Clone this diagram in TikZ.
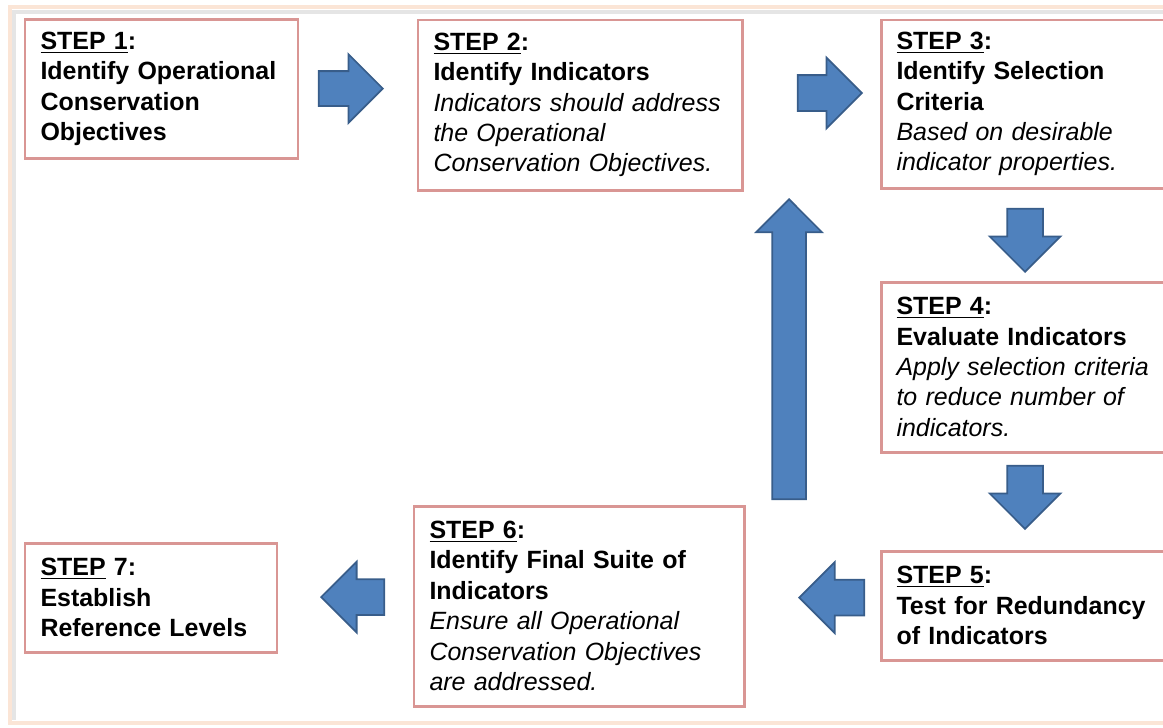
\documentclass[tikz,border=0pt]{standalone}
\usepackage{fontspec}
\setmainfont{Liberation Sans}
\usetikzlibrary{shapes.arrows}
\definecolor{stepred}{RGB}{217,150,148}
\definecolor{arrowfill}{RGB}{79,129,189}
\definecolor{arrowline}{RGB}{56,93,138}
\definecolor{framepeach}{RGB}{251,229,214}

\begin{document}
\begin{tikzpicture}[font=\fontsize{14.2}{17.3}\selectfont,x=1cm,y=1cm,
  stepbox/.style={draw=stepred,line width=1.7pt,fill=white,align=left,inner xsep=0.31cm,inner ysep=0pt},
  blk/.style={single arrow,draw=arrowline,fill=arrowfill,line width=1pt,inner xsep=0pt,inner ysep=0.34cm,single arrow head extend=#1,anchor=tip},
  blk/.default=0.35cm]
  \useasboundingbox (0,0) rectangle (23.26,-14.54);
  % cadre
  \draw[framepeach,line width=2pt] (0.2,-0.14) rectangle (24,-14.46);
  \draw[gray!20,line width=2pt] (0.28,-14.4) -- (0.28,-0.24) -- (24,-0.24);
  % etapes
  \node[stepbox,text width=4.84cm,minimum height=2.78cm] (s1) at (3.23,-1.78)
    {\bfseries\underline{STEP 1}:\\Identify Operational\\Conservation\\Objectives};
  \node[stepbox,text width=5.86cm,minimum height=3.4cm] (s2) at (11.6,-2.1)
    {\bfseries\underline{STEP 2}:\\Identify Indicators\\\mdseries\itshape Indicators should address\\the Operational\\Conservation Objectives.};
  \node[stepbox,text width=5.46cm,minimum height=3.36cm] (s3) at (20.66,-2.08)
    {\bfseries\underline{STEP 3}:\\Identify Selection\\Criteria\\\mdseries\itshape Based on desirable\\indicator properties.};
  \node[stepbox,text width=5.46cm,minimum height=3.4cm] (s4) at (20.66,-7.34)
    {\bfseries\underline{STEP 4}:\\Evaluate Indicators\\\mdseries\itshape Apply selection criteria\\to reduce number of\\indicators.};
  \node[stepbox,text width=5.46cm,minimum height=2.18cm] (s5) at (20.66,-12.11)
    {\bfseries\underline{STEP 5}:\\Test for Redundancy\\of Indicators};
  \node[stepbox,text width=5.98cm,minimum height=4cm] (s6) at (11.58,-12.12)
    {\bfseries\underline{STEP 6}:\\Identify Final Suite of\\Indicators\\\mdseries\itshape Ensure all Operational\\Conservation Objectives\\are addressed.};
  \node[stepbox,text width=4.42cm,minimum height=2.18cm] (s7) at (3.02,-11.95)
    {\bfseries\underline{STEP} 7:\\Establish\\Reference Levels};
  % fleches (placees par la pointe)
  \node[blk=0.34cm,inner ysep=0.33cm,minimum height=1.28cm] (a12) at (7.68,-1.77) {};
  \node[blk,minimum height=1.28cm] (a23) at (17.26,-1.86) {};
  \node[blk,rotate=-90,minimum height=1.26cm] (a34) at (20.5,-5.46) {};
  \node[blk,rotate=-90,minimum height=1.26cm] (a45) at (20.5,-10.6) {};
  \node[blk,rotate=180,minimum height=1.3cm] (a56) at (15.96,-11.95) {};
  \node[blk,rotate=180,minimum height=1.26cm] (a67) at (6.4,-11.94) {};
  \node[blk=0.32cm,rotate=90,inner ysep=0.32cm,minimum height=6cm] (a62) at (15.78,-3.96) {};
\end{tikzpicture}
\end{document}
